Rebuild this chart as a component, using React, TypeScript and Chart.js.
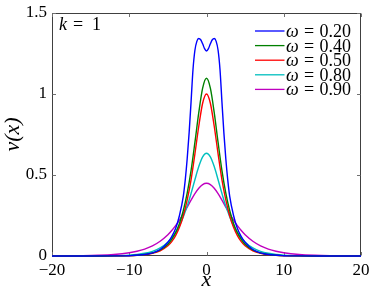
import React, { useEffect, useRef } from 'react';
import { Chart, registerables } from 'chart.js';

Chart.register(...registerables);

// ---- data ----
const omegaLabels = ['0.20', '0.40', '0.50', '0.80', '0.90'];
const seriesColors = ['#0000ff', '#008000', '#ff0000', '#00bfbf', '#bf00bf'];

const xBlue = [-20, -16, -12, -10, -8, -7, -6, -5, -4.5, -4, -3.5, -3, -2.75, -2.5, -2.25, -2, -1.75, -1.5, -1.25, -1, -0.75, -0.5, -0.25, 0, 0.25, 0.5, 0.75, 1, 1.25, 1.5, 1.75, 2, 2.25, 2.5, 2.75, 3, 3.5, 4, 4.5, 5, 6, 7, 8, 10, 12, 16, 20];
const vBlue = [0, 0, 0.0005, 0.002, 0.009, 0.019, 0.04, 0.085, 0.12, 0.17, 0.25, 0.37, 0.47, 0.6, 0.76, 0.95, 1.15, 1.27, 1.325, 1.343, 1.335, 1.31, 1.28, 1.265, 1.28, 1.31, 1.335, 1.343, 1.325, 1.27, 1.15, 0.95, 0.76, 0.6, 0.47, 0.37, 0.25, 0.17, 0.12, 0.085, 0.04, 0.019, 0.009, 0.002, 0.0005, 0, 0];

const xGrid = [-20, -16, -14, -12, -10, -9, -8, -7, -6, -5, -4.5, -4, -3.5, -3, -2.5, -2, -1.5, -1, -0.5, 0, 0.5, 1, 1.5, 2, 2.5, 3, 3.5, 4, 4.5, 5, 6, 7, 8, 9, 10, 12, 14, 16, 20];
const vGreen = [0, 0, 0.0002, 0.0006, 0.0024, 0.0048, 0.0095, 0.019, 0.037, 0.073, 0.103, 0.144, 0.201, 0.281, 0.388, 0.527, 0.701, 0.885, 1.036, 1.097, 1.036, 0.885, 0.701, 0.527, 0.388, 0.281, 0.201, 0.144, 0.103, 0.073, 0.037, 0.019, 0.0095, 0.0048, 0.0024, 0.0006, 0.0002, 0, 0];
const vRed = [0, 0, 0.0001, 0.0005, 0.002, 0.004, 0.008, 0.016, 0.032, 0.063, 0.089, 0.126, 0.177, 0.248, 0.346, 0.47, 0.631, 0.801, 0.943, 1.0, 0.943, 0.801, 0.631, 0.47, 0.346, 0.248, 0.177, 0.126, 0.089, 0.063, 0.032, 0.016, 0.008, 0.004, 0.002, 0.0005, 0.0001, 0, 0];
const vCyan = [0, 0.0002, 0.0007, 0.0019, 0.0057, 0.0098, 0.0169, 0.029, 0.0496, 0.085, 0.111, 0.144, 0.187, 0.243, 0.308, 0.386, 0.471, 0.552, 0.612, 0.634, 0.612, 0.552, 0.471, 0.386, 0.308, 0.243, 0.187, 0.144, 0.111, 0.085, 0.0496, 0.029, 0.0169, 0.0098, 0.0057, 0.0019, 0.0007, 0.0002, 0];
const vMagenta = [0.0005, 0.0021, 0.0044, 0.0094, 0.0201, 0.0294, 0.0429, 0.0625, 0.091, 0.131, 0.157, 0.1875, 0.222, 0.261, 0.302, 0.345, 0.385, 0.418, 0.441, 0.449, 0.441, 0.418, 0.385, 0.345, 0.302, 0.261, 0.222, 0.1875, 0.157, 0.131, 0.091, 0.0625, 0.0429, 0.0294, 0.0201, 0.0094, 0.0044, 0.0021, 0.0005];

const xTickValues = [-20, -10, 0, 10, 20];
const xTickLabels = ['\u221220', '\u221210', '0', '10', '20'];
const yTickValues = [0, 0.5, 1, 1.5];
const yTickLabels = ['0', '0.5', '1', '1.5'];
const xTitle = 'x';
const yTitle = 'v(x)';
const annotationVar = 'k';
const annotationValue = '1';
const legendSymbol = '\u03C9';

const FONT_CANDIDATES = ['Liberation Serif', 'Times New Roman', 'Tinos', 'DejaVu Serif', 'Noto Serif'];

function pickSerif(): string {
  try {
    const c = document.createElement('canvas');
    const g = c.getContext('2d');
    if (!g) return 'serif';
    const sample = 'abcdefghijklmnopqrstuvwxyz0123456789';
    const widthWith = (f: string) => {
      g.font = `40px ${f}`;
      return g.measureText(sample).width;
    };
    const mono = widthWith('monospace');
    const sans = widthWith('sans-serif');
    for (const cand of FONT_CANDIDATES) {
      const a = widthWith(`"${cand}", monospace`);
      const b = widthWith(`"${cand}", sans-serif`);
      if (Math.abs(a - mono) > 0.5 || Math.abs(b - sans) > 0.5) {
        return `"${cand}", serif`;
      }
    }
  } catch (e) {}
  return 'serif';
}

const seriesX = [xBlue, xGrid, xGrid, xGrid, xGrid];
const seriesY = [vBlue, vGreen, vRed, vCyan, vMagenta];

function makeFramePlugin(SERIF: string) {
  return {
    id: 'frame',
    beforeDatasetsDraw(chart: any) {
      const { ctx, chartArea, scales } = chart;
      const { left, right, top, bottom } = chartArea;
      ctx.save();
      ctx.strokeStyle = '#404040';
      ctx.lineWidth = 1;
      const L = Math.round(left) + 0.5;
      const R = Math.round(right) - 0.5;
      const T = Math.round(top) + 0.5;
      const B = Math.round(bottom) - 0.5;
      ctx.strokeRect(L, T, R - L, B - T);
      ctx.strokeStyle = '#707070';
      const tl = 3.5;
      ctx.beginPath();
      xTickValues.forEach((v) => {
        const px = Math.round(scales.x.getPixelForValue(v)) + 0.5;
        ctx.moveTo(px, B);
        ctx.lineTo(px, B - tl);
        ctx.moveTo(px, T);
        ctx.lineTo(px, T + tl);
      });
      yTickValues.forEach((v) => {
        const py = Math.round(scales.y.getPixelForValue(v)) + 0.5;
        ctx.moveTo(L, py);
        ctx.lineTo(L + tl, py);
        ctx.moveTo(R, py);
        ctx.lineTo(R - tl, py);
      });
      ctx.stroke();
      ctx.restore();
    },
    afterDatasetsDraw(chart: any) {
      const { ctx, chartArea } = chart;
      ctx.save();
      ctx.fillStyle = '#000';
      ctx.textBaseline = 'alphabetic';
      // annotation k = 1
      ctx.font = `italic 18px ${SERIF}`;
      ctx.textAlign = 'left';
      ctx.fillText(annotationVar, chartArea.left + 7, 30);
      ctx.font = `18px ${SERIF}`;
      ctx.textAlign = 'center';
      ctx.fillText('=', chartArea.left + 26, 30);
      ctx.textAlign = 'left';
      ctx.fillText(annotationValue, chartArea.left + 40, 30);

      // legend
      const rowStart = 31;
      const rowStep = 14.6;
      omegaLabels.forEach((lab, i) => {
        const y = rowStart + rowStep * i;
        ctx.strokeStyle = seriesColors[i];
        ctx.lineWidth = 1.3;
        ctx.beginPath();
        ctx.moveTo(255, y);
        ctx.lineTo(284.5, y);
        ctx.stroke();
        ctx.fillStyle = '#000';
        ctx.font = `italic 18px ${SERIF}`;
        ctx.textAlign = 'left';
        ctx.fillText(legendSymbol, 286, y + 6);
        ctx.font = `18px ${SERIF}`;
        ctx.textAlign = 'center';
        ctx.fillText('=', 309, y + 6);
        ctx.textAlign = 'right';
        ctx.fillText(lab, 351, y + 6);
      });
      ctx.restore();
    },
  };
}

export default function App() {
  const canvasRef = useRef<HTMLCanvasElement | null>(null);

  useEffect(() => {
    const canvas = canvasRef.current;
    if (!canvas) return;
    const SERIF = pickSerif();
    const datasets = omegaLabels.map((lab, i) => ({
      label: `${legendSymbol} = ${lab}`,
      data: seriesX[i].map((x, j) => ({ x, y: seriesY[i][j] })),
      borderColor: seriesColors[i],
      backgroundColor: seriesColors[i],
      borderWidth: 1.4,
      pointRadius: 0,
      fill: false,
      cubicInterpolationMode: 'monotone' as const,
      clip: { left: 0, right: 0, top: 5, bottom: 3 },
    }));

    const chart = new Chart(canvas, {
      type: 'line',
      data: { datasets },
      plugins: [makeFramePlugin(SERIF)],
      options: {
        animation: false,
        responsive: false,
        devicePixelRatio: 1,
        layout: { padding: { left: 0, top: 13, right: 13, bottom: 0 } },
        plugins: {
          legend: { display: false },
          tooltip: { enabled: false },
        },
        scales: {
          x: {
            type: 'linear',
            min: -20,
            max: 20,
            grid: { display: false, drawTicks: false },
            border: { display: false },
            ticks: {
              stepSize: 10,
              padding: 4,
              color: '#000',
              font: { family: SERIF, size: 17 },
              maxRotation: 0,
              callback: (v: any) => {
                const idx = xTickValues.indexOf(Number(v));
                return idx >= 0 ? xTickLabels[idx] : '';
              },
            },
            title: {
              display: true,
              text: xTitle,
              color: '#000',
              font: { family: SERIF, size: 22, style: 'italic', lineHeight: 0.9 },
              padding: { top: 0, bottom: 0 },
            },
            afterFit: (scale: any) => {
              scale.height = 34;
              scale.paddingLeft = 0;
              scale.paddingRight = 0;
            },
          },
          y: {
            type: 'linear',
            min: 0,
            max: 1.5,
            grid: { display: false, drawTicks: false },
            border: { display: false },
            ticks: {
              stepSize: 0.5,
              padding: 5,
              color: '#000',
              font: { family: SERIF, size: 17 },
              callback: (v: any) => {
                const idx = yTickValues.findIndex((t) => Math.abs(t - Number(v)) < 1e-9);
                return idx >= 0 ? yTickLabels[idx] : '';
              },
            },
            title: {
              display: true,
              text: yTitle,
              color: '#000',
              font: { family: SERIF, size: 22, style: 'italic', lineHeight: 1.2 },
              padding: { top: 0, bottom: 0 },
            },
            afterFit: (scale: any) => {
              scale.width = 52;
              scale.paddingTop = 0;
              scale.paddingBottom = 0;
            },
          },
        },
      },
    });
    return () => {
      chart.destroy();
    };
  }, []);

  return (
    <div style={{ position: 'absolute', left: 0, top: 0, width: 374, height: 290, background: '#fff', fontFamily: '"Liberation Serif", serif' }}>
      <canvas ref={canvasRef} width={374} height={290} style={{ display: 'block', width: 374, height: 290 }} />
    </div>
  );
}
